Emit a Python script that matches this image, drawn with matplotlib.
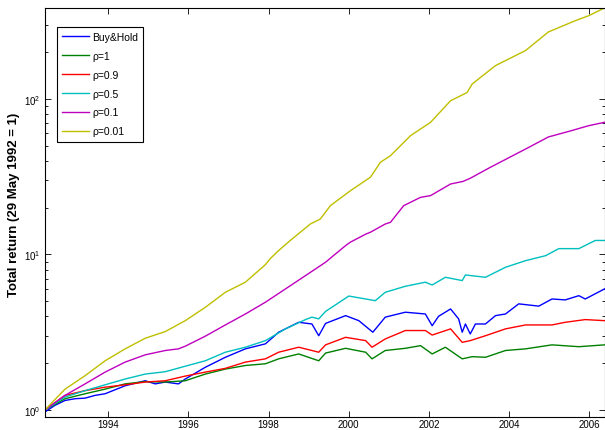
import matplotlib
matplotlib.use("Agg")
import matplotlib.pyplot as plt
from matplotlib import ticker

plt.rcParams["font.family"] = ["Liberation Sans", "DejaVu Sans"]
plt.rcParams["mathtext.fontset"] = "custom"
plt.rcParams["mathtext.rm"] = "Liberation Sans"
plt.rcParams["mathtext.it"] = "Liberation Sans:italic"
plt.rcParams["mathtext.bf"] = "Liberation Sans:bold"

# values (decimal years, total return)
bh_t = [1992.42, 1992.67, 1992.92, 1993.17, 1993.42, 1993.67, 1993.92, 1994.42, 1994.92, 1995.17,
        1995.42, 1995.75, 1995.92, 1996.42, 1996.92, 1997.42, 1997.92, 1998.25, 1998.75, 1999.08,
        1999.25, 1999.42, 1999.92, 2000.25, 2000.60, 2000.91, 2001.41, 2001.91, 2002.08, 2002.24,
        2002.54, 2002.74, 2002.83, 2002.91, 2003.03, 2003.16, 2003.41, 2003.66, 2003.91, 2004.24,
        2004.74, 2005.07, 2005.40, 2005.74, 2005.90, 2006.38]
bh_v = [0.97, 1.07, 1.15, 1.18, 1.19, 1.24, 1.27, 1.43, 1.54, 1.47,
        1.51, 1.47, 1.58, 1.88, 2.18, 2.47, 2.66, 3.16, 3.66, 3.57,
        3.00, 3.60, 4.04, 3.75, 3.16, 3.95, 4.25, 4.14, 3.48, 4.00,
        4.46, 3.85, 3.16, 3.57, 3.08, 3.57, 3.57, 4.04, 4.14, 4.81,
        4.65, 5.17, 5.10, 5.43, 5.17, 6.00]

r1_t = [1992.42, 1992.92, 1993.42, 1993.92, 1994.42, 1994.92, 1995.42, 1995.92, 1996.42, 1996.92,
        1997.42, 1997.92, 1998.25, 1998.75, 1999.25, 1999.42, 1999.92, 2000.42, 2000.58, 2000.91,
        2001.41, 2001.79, 2002.08, 2002.41, 2002.83, 2003.08, 2003.41, 2003.91, 2004.41, 2005.07,
        2005.74, 2006.38]
r1_v = [1.00, 1.18, 1.27, 1.36, 1.47, 1.52, 1.51, 1.54, 1.70, 1.83,
        1.93, 1.98, 2.13, 2.29, 2.07, 2.32, 2.49, 2.35, 2.13, 2.41,
        2.49, 2.59, 2.29, 2.53, 2.13, 2.20, 2.18, 2.41, 2.47, 2.62,
        2.55, 2.62]

r09_t = [1992.42, 1992.92, 1993.42, 1993.92, 1994.42, 1994.92, 1995.42, 1995.92, 1996.42, 1996.92,
         1997.42, 1997.92, 1998.25, 1998.75, 1999.25, 1999.42, 1999.92, 2000.42, 2000.58, 2000.91,
         2001.41, 2001.91, 2002.08, 2002.54, 2002.83, 2003.03, 2003.41, 2003.91, 2004.41, 2005.07,
         2005.40, 2005.90, 2006.38]
r09_v = [1.00, 1.24, 1.33, 1.40, 1.45, 1.51, 1.54, 1.65, 1.75, 1.85,
         2.03, 2.13, 2.35, 2.53, 2.35, 2.62, 2.93, 2.79, 2.53, 2.86,
         3.24, 3.24, 3.03, 3.32, 2.72, 2.79, 3.00, 3.32, 3.52, 3.52,
         3.66, 3.81, 3.75]

r05_t = [1992.42, 1992.92, 1993.42, 1993.92, 1994.42, 1994.92, 1995.42, 1995.92, 1996.42, 1996.92,
         1997.42, 1997.92, 1998.42, 1998.92, 1999.08, 1999.25, 1999.42, 2000.00, 2000.42, 2000.66,
         2000.91, 2001.41, 2001.91, 2002.08, 2002.41, 2002.83, 2002.91, 2003.41, 2003.91, 2004.41,
         2004.91, 2005.24, 2005.74, 2006.15, 2006.38]
r05_v = [1.00, 1.21, 1.33, 1.45, 1.58, 1.70, 1.76, 1.91, 2.07, 2.35,
         2.53, 2.79, 3.32, 3.81, 3.95, 3.85, 4.30, 5.40, 5.17, 5.04,
         5.71, 6.24, 6.63, 6.36, 7.13, 6.79, 7.38, 7.13, 8.27, 9.12,
         9.82, 10.9, 10.9, 12.3, 12.3]

r01_t = [1992.42, 1992.92, 1993.42, 1993.92, 1994.42, 1994.92, 1995.42, 1995.75, 1995.92, 1996.42,
         1996.92, 1997.42, 1997.92, 1998.42, 1998.92, 1999.42, 1999.54, 1999.92, 2000.04, 2000.42,
         2000.54, 2000.91, 2001.04, 2001.37, 2001.79, 2002.04, 2002.54, 2002.85, 2003.03, 2003.50,
         2004.00, 2004.50, 2004.98, 2005.50, 2005.98, 2006.38]
r01_v = [1.00, 1.24, 1.47, 1.75, 2.03, 2.26, 2.41, 2.47, 2.57, 2.98,
         3.52, 4.14, 4.93, 6.00, 7.31, 8.91, 9.46, 11.4, 12.0, 13.5,
         13.9, 15.7, 16.1, 20.6, 23.3, 23.9, 28.4, 29.5, 30.9, 36.0,
         42.0, 49.0, 57.0, 62.0, 67.3, 70.8]

r001_t = [1992.42, 1992.92, 1993.42, 1993.92, 1994.42, 1994.92, 1995.42, 1995.92, 1996.42, 1996.92,
          1997.42, 1997.92, 1998.04, 1998.25, 1998.54, 1999.04, 1999.29, 1999.54, 2000.04, 2000.54,
          2000.79, 2001.04, 2001.54, 2002.04, 2002.54, 2002.95, 2003.08, 2003.66, 2004.41, 2004.98,
          2005.65, 2005.98, 2006.38]
r001_v = [1.00, 1.36, 1.66, 2.07, 2.47, 2.89, 3.19, 3.75, 4.57, 5.71,
          6.63, 8.60, 9.40, 10.6, 12.3, 15.7, 16.9, 20.6, 25.7, 31.4,
          39.2, 43.2, 58.1, 70.8, 97.5, 110, 125, 164, 205, 270,
          319, 343, 385]

series = [
    (bh_t, bh_v, "Buy&Hold", (0, 0, 1)),
    (r1_t, r1_v, "ρ=1", (0, 0.5, 0)),
    (r09_t, r09_v, "ρ=0.9", (1, 0, 0)),
    (r05_t, r05_v, "ρ=0.5", (0, 0.75, 0.75)),
    (r01_t, r01_v, "ρ=0.1", (0.75, 0, 0.75)),
    (r001_t, r001_v, "ρ=0.01", (0.75, 0.75, 0)),
]

fig = plt.figure(figsize=(6.05, 4.31), dpi=100)
ax = fig.add_axes([45 / 605, 13 / 431, 559.5 / 605, 409 / 431])

for t, v, name, col in series:
    ax.plot(t, v, color=col, lw=1.0, label=name)

ax.set_yscale("log")
ax.set_xlim(1992.42, 2006.38)
ax.set_ylim(0.9, 385)
ax.set_xticks(range(1994, 2007, 2))
ax.yaxis.set_minor_formatter(ticker.NullFormatter())

ax.tick_params(which="both", direction="in", top=True, right=True, labelsize=7, width=0.6)
ax.tick_params(which="major", length=4.5)
ax.tick_params(which="minor", length=2.5)
ax.tick_params(axis="x", pad=1.5)
for sp in ax.spines.values():
    sp.set_linewidth(0.8)

ax.set_ylabel("Total return (29 May 1992 = 1)", fontsize=9.5, fontweight="bold")
ax.yaxis.set_label_coords(-0.045, 0.52)

legend = ax.legend(loc="upper left", bbox_to_anchor=(0.021, 0.954), borderaxespad=0,
                   fontsize=7.5, fancybox=False, edgecolor="black", framealpha=1,
                   handlelength=2.6, handletextpad=0.3, labelspacing=0.85, borderpad=0.5)
legend.get_frame().set_linewidth(0.8)

plt.savefig("out.png", dpi=100)
